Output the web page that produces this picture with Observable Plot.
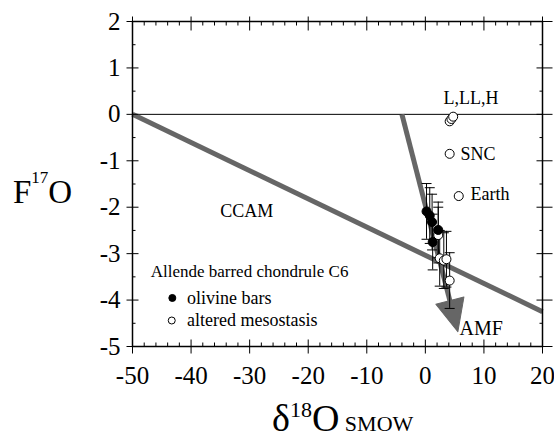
<!DOCTYPE html>
<html>
<head>
<meta charset="utf-8">
<script src="https://cdn.jsdelivr.net/npm/d3@7"></script>
<script src="https://cdn.jsdelivr.net/npm/@observablehq/plot@0.6"></script>
<style>
  html, body { margin: 0; padding: 0; background: #fff; }
  #chart svg { display: block; }
</style>
</head>
<body>
<div id="chart"></div>
<script>
// ---------- data ----------
const xMajor = [-50, -40, -30, -20, -10, 0, 10, 20];
const yMajor = [2, 1, 0, -1, -2, -3, -4, -5];

// Allende barred chondrule C6
const olivineX = [0.2, 0.75, 1.15, 2.2, 1.25];
const olivineY = [-2.09, -2.18, -2.32, -2.49, -2.75];
const olivineErr = [0.6, 0.6, 0.6, 0.6, 0.6];
const mesoX = [2.2, 2.45, 3.15, 3.6, 4.15];
const mesoY = [-2.6, -3.1, -3.15, -3.12, -3.58];
const mesoErr = [0.6, 0.6, 0.6, 0.6, 0.6];

// reference reservoirs (open circles)
const refNames = ["L", "LL", "H", "SNC", "Earth"];
const refX = [4.15, 4.45, 4.75, 4.15, 5.7];
const refY = [-0.15, -0.1, -0.05, -0.85, -1.76];

// reference lines
const ccamX = [-50, 20];
const ccamY = [0, -4.25];
const amfX = [-4, 4.67];      // shaft
const amfY = [0, -4.25];
const amfTipX = [5.55];       // arrow tip
const amfTipY = [-4.68];

// annotations (text, anchor position in data units)
const labelsMid = [
  {text: "L,LL,H", x: 3.1, y: 0.34},
  {text: "SNC", x: 6.0, y: -0.86},
  {text: "Earth", x: 7.7, y: -1.73},
  {text: "CCAM", x: -35, y: -2.09}
];
const labelAMF = [{text: "AMF", x: 5.83, y: -4.62}];
const legendTitle = [{text: "Allende barred chondrule C6", x: -46.9, y: -3.38}];
const legendItems = [
  {text: "olivine bars", x: -40.7, y: -3.955, dx: -43.2, filled: true},
  {text: "altered mesostasis", x: -40.7, y: -4.44, dx: -43.3, filled: false}
];

// ---------- layout ----------
const W = 554, H = 440, mL = 132, mR = 12, mT = 21, mB = 94;
const xDomain = [-50, 20], yDomain = [-5, 2];
const kx = (W - mL - mR) / (xDomain[1] - xDomain[0]);
const ky = (H - mT - mB) / (yDomain[1] - yDomain[0]);
const serif = "'Liberation Serif', 'Times New Roman', serif";

const olivine = olivineX.map((x, i) => ({x, y: olivineY[i], e: olivineErr[i]}));
const meso = mesoX.map((x, i) => ({x, y: mesoY[i], e: mesoErr[i]}));
const refs = refNames.map((n, i) => ({name: n, x: refX[i], y: refY[i]}));
const ccam = ccamX.map((x, i) => ({x, y: ccamY[i]}));
const amf = amfX.map((x, i) => ({x, y: amfY[i]}));
const tip = [{x: amfTipX[0], y: amfTipY[0]}];
const allPts = olivine.concat(meso);
const caps = allPts.flatMap(d => [{x: d.x, y: d.y - d.e}, {x: d.x, y: d.y + d.e}]);

const xMinor = d3.range(-48, 20, 2).filter(v => v % 10 !== 0);
const yMinor = d3.range(-4.5, 2, 1);

// shapes for ticks, caps, arrow head
const vseg = (a, b) => ({draw(c) { c.moveTo(0, a); c.lineTo(0, b); }});
const hseg = (a, b) => ({draw(c) { c.moveTo(a, 0); c.lineTo(b, 0); }});
const headShape = {draw(c, l) { c.moveTo(0, -l); c.lineTo(-14.5, 0); c.lineTo(14.5, 0); c.closePath(); }};
const dxpx = (amfTipX[0] - amfX[0]) * kx;
const dypx = -(amfTipY[0] - amfY[0]) * ky;
const headAngle = Math.atan2(dxpx, -dypx) * 180 / Math.PI;

const gray = "#666666";
const tickStyle = {stroke: "black", strokeWidth: 1, anchor: "start", strokeLinecap: "butt"};

const svg = Plot.plot({
  width: W, height: H,
  marginLeft: mL, marginRight: mR, marginTop: mT, marginBottom: mB,
  style: {fontFamily: serif, fontSize: "25px", color: "black", background: "white", overflow: "visible"},
  x: {domain: xDomain, label: null},
  y: {domain: yDomain, label: null},
  marks: [
    Plot.ruleY([0], {stroke: "black", strokeWidth: 1}),
    Plot.line(ccam, {x: "x", y: "y", stroke: gray, strokeWidth: 5, strokeLinecap: "butt"}),
    Plot.line(amf, {x: "x", y: "y", stroke: gray, strokeWidth: 5, strokeLinecap: "butt"}),
    Plot.vector(tip, {x: "x", y: "y", anchor: "end", length: 32, rotate: headAngle, shape: headShape, fill: gray, stroke: gray, strokeWidth: 1}),
    // error bars
    Plot.ruleX(allPts, {x: "x", y1: d => d.y - d.e, y2: d => d.y + d.e, stroke: "black", strokeWidth: 1}),
    Plot.vector(caps, {x: "x", y: "y", shape: hseg(-5, 5), ...tickStyle}),
    // points
    Plot.dot(refs, {x: "x", y: "y", r: 4.5, fill: "white", stroke: "black", strokeWidth: 1}),
    Plot.dot(meso, {x: "x", y: "y", r: 4.5, fill: "white", stroke: "black", strokeWidth: 1}),
    Plot.dot(olivine, {x: "x", y: "y", r: 4.5, fill: "black", stroke: "black", strokeWidth: 1}),
    // annotations
    Plot.text(labelsMid, {x: "x", y: "y", text: "text", textAnchor: "start", fontSize: 18, fontFamily: serif, fill: "black"}),
    Plot.text(labelAMF, {x: "x", y: "y", text: "text", textAnchor: "start", fontSize: 20, fontFamily: serif, fill: "black"}),
    Plot.text(legendTitle, {x: "x", y: "y", text: "text", textAnchor: "start", fontSize: 17, fontFamily: serif, fill: "black"}),
    Plot.dot(legendItems, {x: "dx", y: "y", r: 3.5, fill: d => d.filled ? "black" : "white", stroke: "black", strokeWidth: 1}),
    Plot.text(legendItems, {x: "x", y: "y", text: "text", textAnchor: "start", fontSize: 18, fontFamily: serif, fill: "black"}),
    // frame & ticks
    Plot.frame({stroke: "black", strokeWidth: 1.5}),
    Plot.vector(xMajor, {x: d => d, frameAnchor: "bottom", shape: vseg(-7, 7), ...tickStyle}),
    Plot.vector(xMinor, {x: d => d, frameAnchor: "bottom", shape: vseg(-4, 0), ...tickStyle}),
    Plot.vector(xMajor, {x: d => d, frameAnchor: "top", shape: vseg(-5, 9), ...tickStyle}),
    Plot.vector(xMinor, {x: d => d, frameAnchor: "top", shape: vseg(0, 4), ...tickStyle}),
    Plot.vector(yMajor, {y: d => d, frameAnchor: "left", shape: hseg(-6, 6), ...tickStyle}),
    Plot.vector(yMinor, {y: d => d, frameAnchor: "left", shape: hseg(0, 3), ...tickStyle}),
    Plot.vector(yMajor, {y: d => d, frameAnchor: "right", shape: hseg(-6, 10), ...tickStyle}),
    Plot.vector(yMinor, {y: d => d, frameAnchor: "right", shape: hseg(-3, 0), ...tickStyle}),
    Plot.axisX({ticks: xMajor, tickSize: 0, tickPadding: 20, tickFormat: d => String(d), fontSize: 25, fontFamily: serif, fontVariant: "normal", label: null}),
    Plot.axisY({ticks: yMajor, tickSize: 0, tickPadding: 12, tickFormat: d => String(d), fontSize: 25, fontFamily: serif, fontVariant: "normal", label: null})
  ]
});

const s = d3.select(svg);
s.selectAll("text").style("font-family", serif);

// axis titles with superscripts
const yl = s.append("text").attr("x", 13).attr("y", 203).attr("text-anchor", "start")
  .attr("fill", "black").style("font-family", serif).style("font-size", "33px");
yl.append("tspan").text("F");
yl.append("tspan").attr("dy", -20).style("font-size", "17px").text("17");
yl.append("tspan").attr("dy", 20).text("O");

const xl = s.append("text").attr("x", 272).attr("y", 431).attr("text-anchor", "start")
  .attr("fill", "black").style("font-family", serif).style("font-size", "38px");
xl.append("tspan").text("δ");
xl.append("tspan").attr("dy", -14).style("font-size", "22px").text("18");
xl.append("tspan").attr("dy", 14).text("O");
xl.append("tspan").style("font-size", "22px").text(" SMOW");

document.getElementById("chart").appendChild(svg);
</script>
</body>
</html>
